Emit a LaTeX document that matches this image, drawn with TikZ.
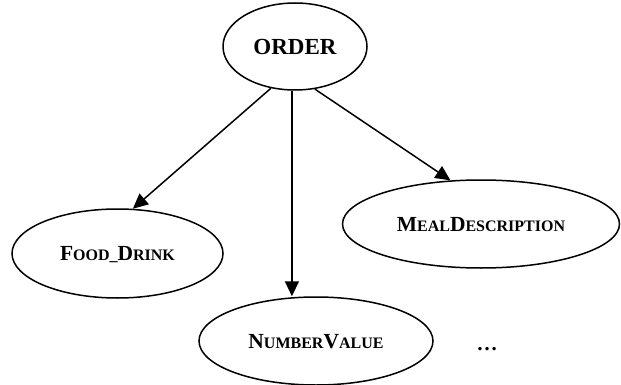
\documentclass[tikz,border=0pt]{standalone}
\usepackage{fontspec}
\setmainfont{Liberation Serif}
\usetikzlibrary{shapes.geometric,arrows.meta}
\newcommand{\bigc}[1]{{\fontsize{21.5}{22}\selectfont #1}}
\newcommand{\smc}[1]{{\fontsize{16}{17}\selectfont #1}}
\begin{document}
\begin{tikzpicture}[x=1pt,y=-1pt,
  ent/.style={ellipse,draw,line width=1.5pt,inner sep=0pt,font=\bfseries,text depth=0pt},
  arr/.style={line width=1.5pt,-{Triangle[length=15pt,width=14pt]}}]
\useasboundingbox (0,0) rectangle (621,385);
\node[ent,minimum width=144pt,minimum height=87pt] (order) at (295,46.5) {\fontsize{23}{24}\selectfont ORDER};
\node[ent,minimum width=211pt,minimum height=89pt] (food) at (117.5,253.5) {\bigc{F}\smc{OOD\_}\bigc{D}\smc{RINK}};
\node[ent,minimum width=277pt,minimum height=88pt] (meal) at (481,224) {\bigc{M}\smc{EAL}\bigc{D}\smc{ESCRIPTION}};
\node[ent,minimum width=234pt,minimum height=88pt] (num) at (316,341) {\bigc{N}\smc{UMBER}\bigc{V}\smc{ALUE}};
\node[font=\bfseries,inner sep=0pt] (dots) at (487,349) {\fontsize{21}{22}\selectfont …};
\draw[arr] (order.240) -- (food.71);
\draw[arr] (order.266) -- (order.266 |- num.north);
\draw[arr] (order.295) -- (meal.125);
\end{tikzpicture}
\end{document}
